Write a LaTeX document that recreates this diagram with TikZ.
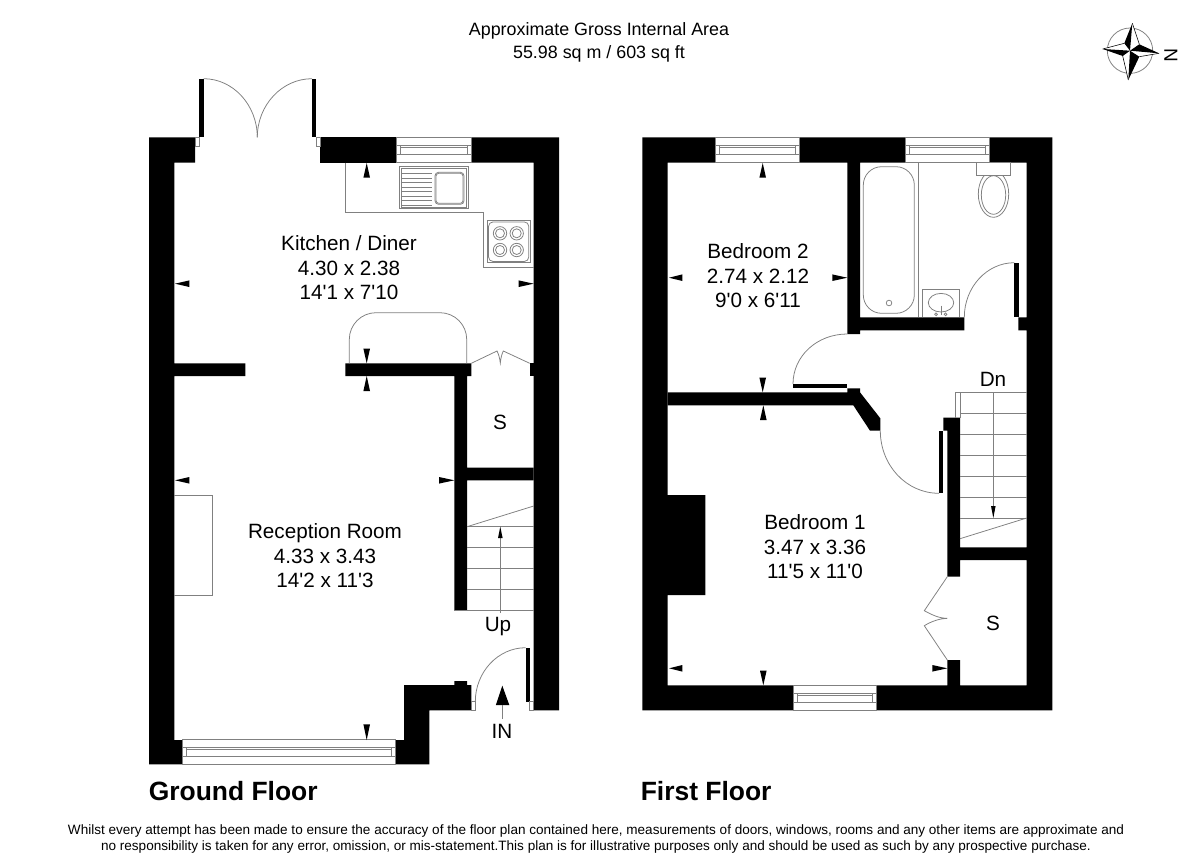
\documentclass[tikz,border=0pt]{standalone}
\usepackage{fontspec}
\setmainfont{Liberation Sans}
\usepackage{xcolor}
\usepackage{tikz}
\definecolor{linegray}{HTML}{808080}
\newcommand{\ft}{\textquotesingle}
\tikzset{
  wall/.style={fill=black},
  thin/.style={draw=linegray, line width=0.55pt},
  winline/.style={draw=linegray, line width=0.5pt},
  tick/.style={fill=black},
  room/.style={align=center, inner sep=0pt, font=\fontsize{14.7}{17.4}\selectfont},
  head/.style={align=center, inner sep=0pt, font=\fontsize{12.7}{16.4}\selectfont},
  floorname/.style={anchor=west, inner sep=0pt, font=\fontsize{18.8}{22}\selectfont\bfseries},
  foot/.style={align=center, inner sep=0pt, font=\fontsize{9.63}{11.4}\selectfont},
}
\newcommand{\winh}[3]{%
  \draw[winline] (#1,#3) rectangle (#2,#3+25);
  \draw[winline] (#1,#3+7.7) -- (#2,#3+7.7) (#1+4,#3+10) -- (#2-4,#3+10) (#1,#3+16.7) -- (#2,#3+16.7);
  \draw[winline] (#1+4,#3+7.7) -- (#1+4,#3+16.7) (#2-4,#3+7.7) -- (#2-4,#3+16.7);
}
\begin{document}
\begin{tikzpicture}[x=0.025cm,y=-0.025cm]
  \useasboundingbox (0,0) rectangle (1200,867);

  % ground floor walls
  \fill[wall] (149,137.3) -- (195,137.3) -- (195,162.7) -- (174.3,162.7) -- (174.3,363.3) -- (245.3,363.3)
    -- (245.3,376) -- (174.3,376) -- (174.3,740) -- (182.7,740) -- (182.7,764.3) -- (149,764.3) -- cycle;
  \fill[wall] (320.3,137.3) rectangle (396,162.7);
  \fill[wall] (471,137.3) -- (559,137.3) -- (559,710.3) -- (533.7,710.3) -- (533.7,162.7) -- (471,162.7) -- cycle;
  \fill[wall] (345.3,363.3) -- (471.3,363.3) -- (471.3,376) -- (467,376) -- (467,467.7) -- (533.7,467.7)
    -- (533.7,480.3) -- (467,480.3) -- (467,610) -- (454.3,610) -- (454.3,376) -- (345.3,376) -- cycle;
  \fill[wall] (529.7,363.3) rectangle (533.7,376);
  \fill[wall] (404,685) -- (454.3,685) -- (454.3,681) -- (467,681) -- (467,685) -- (471.3,685) -- (471.3,710.3)
    -- (429.3,710.3) -- (429.3,764.3) -- (395.7,764.3) -- (395.7,740) -- (404,740) -- cycle;

  % ground floor doors
  \fill[wall] (199.3,78.7) rectangle (203.7,137.3);
  \fill[wall] (312,78.7) rectangle (316.3,137.3);
  \fill[wall] (525.7,647.7) rectangle (529.7,701.7);
  \draw[thin] (203.7,78.7) .. controls (233,78.7) and (257.3,105) .. (257.3,137.3);
  \draw[thin] (312,78.7) .. controls (282,78.7) and (257.3,105) .. (257.3,137.3);
  \draw[thin] (475.3,701.7) .. controls (475.3,672) and (498,647.7) .. (525.7,647.7);
  \draw[thin] (195,137.3) rectangle (199.3,146) (316.3,137.3) rectangle (320.3,146);
  \draw[thin] (471.3,701.7) rectangle (475.3,710.3) (529.7,701.7) rectangle (533.7,710.3);
  \draw[thin] (471.3,363.3) -- (497,351) .. controls (498.5,354) and (499.8,358) .. (500.3,363)
    .. controls (500.8,358) and (501.8,354) .. (503.3,351) -- (529.7,363.3);

  % ground floor windows
  \winh{396}{471}{137.3}
  \winh{182.7}{395.7}{739.6}

  % kitchen fittings
  \draw[thin] (345.3,162.7) -- (345.3,212.7) -- (483.7,212.7) -- (483.7,267.3) -- (533.7,267.3);
  \draw[thin] (399.5,166.7) rectangle (468,208.5) (400.9,168) rectangle (466.6,207.1);
  \draw[thin, rounded corners=2.5] (435,172.3) rectangle (464,204.3);
  \draw[thin, rounded corners=2] (436,173.3) rectangle (463,203.3);
  \foreach \y in {173.5,178,182.5,187,191.5,196,200.5,205} {
    \draw[thin] (402,\y) -- (432,\y);
  }
  \draw[thin] (487.3,220.7) rectangle (530,262.7);
  \draw[thin, rounded corners=3] (488.6,222) rectangle (528.7,261.4);
  \foreach \x in {500,516.7} {
    \foreach \y in {233.3,250} {
      \draw[thin] (\x,\y) circle (6.7);
      \draw[thin] (\x,\y) circle (4.5);
    }
  }
  \draw[thin, rounded corners=19] (349.3,363.3) -- (349.3,312.7) -- (466.7,312.7) -- (466.7,363.3);
  \draw[thin] (174.3,495) -- (212.3,495) -- (212.3,595.3) -- (174.3,595.3);

  % ground floor stairs
  \foreach \y in {526.7,547.7,568.3,589.3} {
    \draw[thin] (467,\y) -- (533.7,\y);
  }
  \draw[thin] (454.3,610) -- (533.7,610);
  \draw[thin] (467,526.7) -- (533.7,506);
  \draw[thin] (500.3,613) -- (500.3,538);
  \fill[tick] (500.3,526.7) -- (498,538) -- (502.6,538) -- cycle;
  \fill[tick] (502.3,685.7) -- (495.9,705) -- (509.3,705) -- cycle;
  \draw[thin] (502.3,705) -- (502.3,719);

  % first floor walls
  \fill[wall] (642.3,137.3) -- (715.3,137.3) -- (715.3,162.7) -- (667.7,162.7) -- (667.7,495) -- (705.3,495)
    -- (705.3,595) -- (667.7,595) -- (667.7,685.3) -- (793.3,685.3) -- (793.3,710.3) -- (642.3,710.3) -- cycle;
  \fill[wall] (799,137.3) -- (905.7,137.3) -- (905.7,162.7) -- (860,162.7) -- (860,317.3) -- (964.3,317.3)
    -- (964.3,330.3) -- (860,330.3) -- (860,334) -- (847.3,334) -- (847.3,162.7) -- (799,162.7) -- cycle;
  \fill[wall] (989.3,137.3) -- (1052.3,137.3) -- (1052.3,710.3) -- (876.3,710.3) -- (876.3,685.3) -- (947.3,685.3)
    -- (947.3,660) -- (960,660) -- (960,685.3) -- (1026.7,685.3) -- (1026.7,560) -- (960,560) -- (960,576.7)
    -- (947.3,576.7) -- (947.3,430.7) -- (943.3,430.7) -- (943.3,417.5) -- (960,417.5) -- (960,547.3)
    -- (1026.7,547.3) -- (1026.7,330.3) -- (1018.3,330.3) -- (1018.3,317.3) -- (1026.7,317.3) -- (1026.7,162.7)
    -- (989.3,162.7) -- cycle;
  \fill[wall] (667.7,392.3) -- (847.3,392.3) -- (847.3,388.3) -- (860,388.3) -- (860,392.3) -- (880.3,418.3)
    -- (880.3,430.7) -- (870,430.7) -- (853.3,405.3) -- (667.7,405.3) -- cycle;

  % first floor doors
  \fill[wall] (1014.3,262.7) rectangle (1018.5,317.3);
  \fill[wall] (793,384) rectangle (847.3,388.3);
  \fill[wall] (939,430.7) rectangle (943.3,493.3);
  \draw[thin] (964.3,317.3) .. controls (964.3,287) and (987,262.7) .. (1014.3,262.7);
  \draw[thin] (847.3,334) .. controls (817,334) and (793,356) .. (793,384);
  \draw[thin] (880.3,430.7) .. controls (880.3,465) and (906,493.3) .. (939,493.3);
  \draw[thin] (947.3,576.7) -- (924.3,610.7) .. controls (932,615) and (940,618.5) .. (947.3,618.3)
    .. controls (940,618.5) and (932,621) .. (924.3,625.7) -- (947.3,660);

  % first floor windows
  \winh{715.3}{799}{137.3}
  \winh{905.7}{989.3}{137.3}
  \winh{793.3}{876.3}{685.3}

  % bathroom
  \draw[thin, rounded corners=13] (863.3,166.7) rectangle (914.3,313.3);
  \draw[thin] (918.3,162.7) -- (918.3,317.3);
  \draw[thin] (889,303) circle (2.8);
  \draw[thin] (922.3,317.3) -- (922.3,289.3) -- (959,289.3) -- (959,317.3);
  \draw[thin] (941,302.7) ellipse (12.7 and 9.3);
  \draw[thin] (941,305.7) -- (941,315);
  \draw[thin] (936,314.3) circle (1.4) (945.5,314.3) circle (1.4);
  \draw[thin] (993.5,194) ellipse (15.2 and 23.3);
  \draw[thin] (993.5,195) ellipse (12.2 and 19.3);
  \draw[thin, fill=white] (976.7,162.7) rectangle (1010.7,175);

  % first floor stairs
  \draw[thin] (955.7,392.3) -- (1026.7,392.3);
  \draw[thin] (955.7,392.3) -- (955.7,417.5) (960,392.3) -- (960,417.5);
  \foreach \y in {413.3,434.3,455.3,476.3,497.3,518} {
    \draw[thin] (960,\y) -- (1026.7,\y);
  }
  \draw[thin] (960,538.7) -- (1026.7,518);
  \draw[thin] (993.3,392.3) -- (993.3,506);
  \fill[tick] (993.3,518) -- (991,506) -- (995.6,506) -- cycle;

  % dimension ticks, apex on the wall
  \foreach \x/\a/\b in {366.7/163/177.7, 366.7/363.3/348.7, 366.7/376/391, 366.7/740/724.3,
      762.7/163/177.7, 762.7/392.3/377.7, 763.3/405.3/420, 763.3/685.3/670.7} {
    \fill[tick] (\x,\a) -- ({\x-3.3},\b) -- ({\x+3.3},\b) -- cycle;
  }
  \foreach \y/\a/\b in {283.7/175/189.3, 283.7/533.7/518.7, 480.3/175/189.3, 480.3/454.3/439,
      277.7/669/682.3, 277.7/847.3/832.3, 668.3/669/682.3, 668.3/947.3/932.3} {
    \fill[tick] (\a,\y) -- (\b,{\y-3.3}) -- (\b,{\y+3.3}) -- cycle;
  }

  % compass
  \draw[thin] (1130,50.7) circle (22.7);
  \coordinate (C) at (1130,50.7);
  \coordinate (NT) at (1132.3,23.3);
  \coordinate (ET) at (1159,53.3);
  \coordinate (ST) at (1128.3,80);
  \coordinate (WT) at (1102.7,49);
  \coordinate (NE) at (1139.3,44.3);
  \coordinate (SE) at (1139.3,56.7);
  \coordinate (SW) at (1122.7,56);
  \coordinate (NW) at (1124.3,43.3);
  \foreach \p/\q in {NT/NE, ET/SE, ST/SW, WT/NW} {
    \fill[white] (\p) -- (\q) -- (C) -- cycle;
    \draw[black, line width=0.4pt] (\p) -- (\q);
  }
  \foreach \p/\q in {NT/NW, ET/NE, ST/SE, WT/SW} {
    \fill[black] (\p) -- (\q) -- (C) -- cycle;
  }
  \node[inner sep=0pt, rotate=-90, font=\fontsize{13.5}{15}\selectfont] (north) at (1171,55) {N};

  % texts
  \node[head] (area) at (599,42.5) {Approximate Gross Internal Area\\55.98 sq m / 603 sq ft};
  \node[room] (kitchen) at (349,268) {Kitchen / Diner\\4.30 x 2.38\\14\ft1 x 7\ft10};
  \node[room] (reception) at (325,556) {Reception Room\\4.33 x 3.43\\14\ft2 x 11\ft3};
  \node[room] (bedtwo) at (758,276) {Bedroom 2\\2.74 x 2.12\\9\ft0 x 6\ft11};
  \node[room] (bedone) at (815,547) {Bedroom 1\\3.47 x 3.36\\11\ft5 x 11\ft0};
  \node[room] (storeg) at (500,422) {S};
  \node[room] (storef) at (993,623) {S};
  \node[room] (up) at (498,626.5) {Up};
  \node[room] (dn) at (993,379) {Dn};
  \node[room] (in) at (502,731) {IN};
  \node[floorname] (ground) at (148.5,791) {Ground Floor};
  \node[floorname] (first) at (640.5,791) {First Floor};
  \node[foot] (note) at (596,838.5) {Whilst every attempt has been made to ensure the accuracy of the floor plan contained here, measurements of doors, windows, rooms and any other items are approximate and\\no responsibility is taken for any error, omission, or mis-statement.This plan is for illustrative purposes only and should be used as such by any prospective purchase.};
\end{tikzpicture}
\end{document}
